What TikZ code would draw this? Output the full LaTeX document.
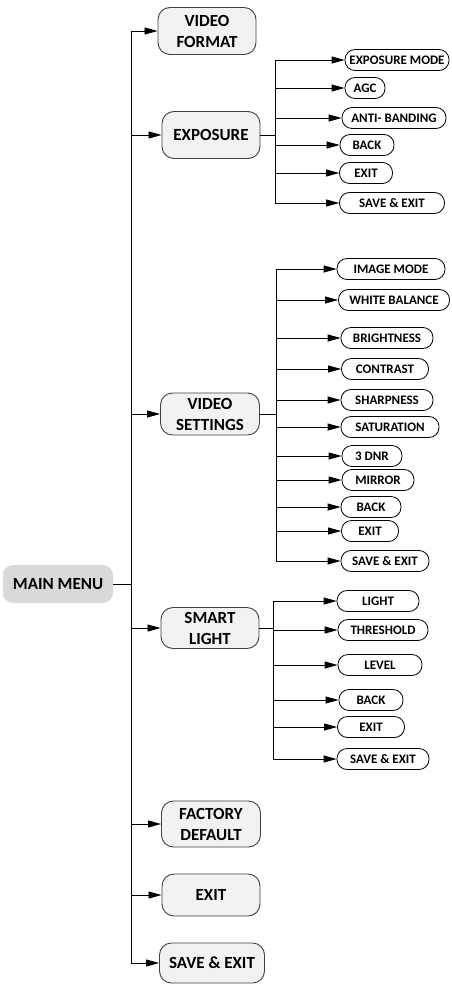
\documentclass[tikz,border=0pt]{standalone}
\usepackage{fontspec}
\setmainfont{Carlito}
\usetikzlibrary{arrows.meta}
\tikzset{
  mainbox/.style={fill=black!15, rounded corners=10pt, minimum width=110pt, minimum height=38pt, inner sep=0pt, font=\bfseries\fontsize{17}{21}\selectfont},
  menubox/.style={draw=black!75, line width=0.9pt, fill=black!5, rounded corners=12pt, minimum width=98pt, minimum height=44pt, inner sep=0pt, align=center, font=\bfseries\fontsize{17}{21}\selectfont},
  subbox/.style={draw, line width=0.8pt, fill=white, rounded corners=10pt, minimum height=21pt, inner sep=0pt, font=\bfseries\fontsize{13}{15}\selectfont},
  >={Triangle[length=13pt,width=7pt]}
}
\begin{document}
\begin{tikzpicture}[x=1pt, y=-1pt, line width=0.8pt]
\useasboundingbox (0,0) rectangle (451,984);
% main menu and first level
\node[mainbox] (main) at (58,584) {MAIN MENU};
\node[menubox, minimum height=47pt] (fmt) at (207,31) {VIDEO\\FORMAT};
\node[menubox, minimum height=47pt] (exp) at (211,135) {EXPOSURE};
\node[menubox, minimum height=42pt, minimum width=99pt] (vid) at (210,414) {VIDEO\\SETTINGS};
\node[menubox, minimum height=41pt] (smart) at (210,628) {SMART\\LIGHT};
\node[menubox, minimum height=46pt, minimum width=99pt] (fac) at (211,824) {FACTORY\\DEFAULT};
\node[menubox, minimum height=42pt] (ex) at (211,895) {EXIT};
\node[menubox, minimum height=40pt, minimum width=105pt] (save) at (212,963) {SAVE \& EXIT};
\coordinate (trunk) at (131,0);
\draw (main) -- (trunk |- main);
\draw (trunk |- fmt) -- (trunk |- save);
\draw[->] (trunk |- fmt) -- (fmt);
\draw[->] (trunk |- exp) -- (exp);
\draw[->] (trunk |- vid) -- (vid);
\draw[->] (trunk |- smart) -- (smart);
\draw[->] (trunk |- fac) -- (fac);
\draw[->] (trunk |- ex) -- (ex);
\draw[->] (trunk |- save) -- (save);
% exposure
\node[subbox, minimum width=104pt] (e1) at (397,60) {EXPOSURE MODE};
\node[subbox, minimum width=40pt] (e2) at (365,88) {AGC};
\node[subbox, minimum width=104pt] (e3) at (394,118) {ANTI- BANDING};
\node[subbox, minimum width=54pt] (e4) at (367,145) {BACK};
\node[subbox, minimum width=53pt] (e5) at (366,173) {EXIT};
\node[subbox, minimum width=105pt] (e6) at (392,203) {SAVE \& EXIT};
\coordinate (ebus) at (275,0);
\draw (exp) -- (ebus |- exp);
\draw (ebus |- e1) -- (ebus |- e6);
\foreach \n in {e1,e2,e3,e4,e5,e6}
  \draw[->] (ebus |- \n) -- (\n);
% video settings
\node[subbox, minimum width=108pt] (v1) at (391,269) {IMAGE MODE};
\node[subbox, minimum width=111pt] (v2) at (394,300) {WHITE BALANCE};
\node[subbox, minimum width=92pt] (v3) at (387,338) {BRIGHTNESS};
\node[subbox, minimum width=87pt] (v4) at (385,369) {CONTRAST};
\node[subbox, minimum width=92pt] (v5) at (387,400) {SHARPNESS};
\node[subbox, minimum width=98pt] (v6) at (390,427) {SATURATION};
\node[subbox, minimum width=60pt] (v7) at (372,456) {3 DNR};
\node[subbox, minimum width=72pt] (v8) at (378,480) {MIRROR};
\node[subbox, minimum width=60pt] (v9) at (371,507) {BACK};
\node[subbox, minimum width=57pt] (v10) at (370,531) {EXIT};
\node[subbox, minimum width=88pt] (v11) at (385,561) {SAVE \& EXIT};
\coordinate (vbus) at (276,0);
\draw (vid) -- (vbus |- vid);
\draw (vbus |- v1) -- (vbus |- v11);
\foreach \n in {v1,v2,v3,v4,v5,v6,v7,v8,v9,v10,v11}
  \draw[->] (vbus |- \n) -- (\n);
% smart light
\node[subbox, minimum width=82pt] (s1) at (378,601) {LIGHT};
\node[subbox, minimum width=90pt] (s2) at (383,630) {THRESHOLD};
\node[subbox, minimum width=84pt] (s3) at (380,665) {LEVEL};
\node[subbox, minimum width=64pt] (s4) at (371,700) {BACK};
\node[subbox, minimum width=67pt] (s5) at (371,727) {EXIT};
\node[subbox, minimum width=92pt] (s6) at (383,759) {SAVE \& EXIT};
\coordinate (sbus) at (273,0);
\draw (smart) -- (sbus |- smart);
\draw (sbus |- s1) -- (sbus |- s6);
\foreach \n in {s1,s2,s3,s4,s5,s6}
  \draw[->] (sbus |- \n) -- (\n);
\end{tikzpicture}
\end{document}
